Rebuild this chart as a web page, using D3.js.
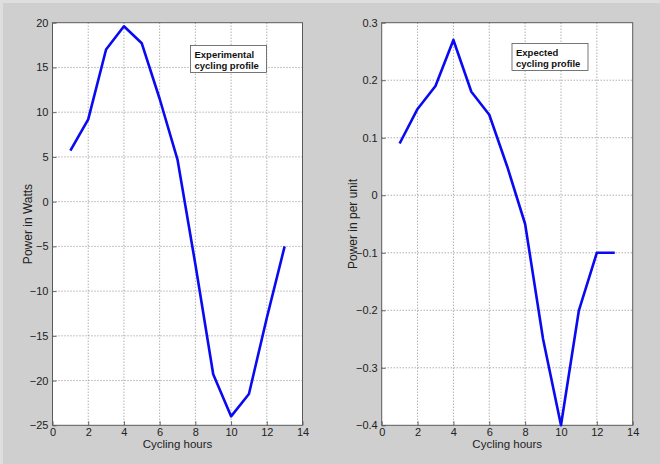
<!DOCTYPE html>
<html>
<head>
<meta charset="utf-8">
<script src="https://cdn.jsdelivr.net/npm/d3@7"></script>
<style>
  body { margin: 0; background: #cfcfcf; }
  svg { display: block; font-family: "Liberation Sans", Arial, sans-serif; }
  .grid line { stroke: #8a8a8a; stroke-dasharray: 1,2; stroke-width: 1; }
  .tick text { fill: #222; font-size: 11px; }
</style>
</head>
<body>
<svg id="chart" width="660" height="464"></svg>
<script>
// shared x values
const hours = [1, 2, 3, 4, 5, 6, 7, 8, 9, 10, 11, 12, 13];
const xTicks = [0, 2, 4, 6, 8, 10, 12, 14];

// left panel
const wattValues = [5.7, 9.2, 17, 19.6, 17.7, 11.5, 4.7, -7, -19.3, -24, -21.5, -13, -5];
const wattTicks = [-25, -20, -15, -10, -5, 0, 5, 10, 15, 20];

// right panel
const perUnitValues = [0.09, 0.15, 0.19, 0.27, 0.18, 0.14, 0.05, -0.05, -0.25, -0.4, -0.2, -0.1, -0.1];
const perUnitTicks = [-0.4, -0.3, -0.2, -0.1, 0, 0.1, 0.2, 0.3];

const svg = d3.select("#chart");

// light border strip like the screenshot
svg.append("rect").attr("x", 0).attr("y", 0).attr("width", 660).attr("height", 464).attr("fill", "#cfcfcf");
svg.append("rect").attr("x", 0).attr("y", 0).attr("width", 660).attr("height", 3).attr("fill", "#dedede");
svg.append("rect").attr("x", 0).attr("y", 0).attr("width", 3).attr("height", 464).attr("fill", "#dedede");

function drawPanel(opts) {
  const { left, right, top, bottom, values, yTicks, yDomain, yLabel, yLabelX, note, noteBox, fmt } = opts;

  const x = d3.scaleLinear().domain([0, 14]).range([left, right]);
  const y = d3.scaleLinear().domain(yDomain).range([bottom, top]);

  const g = svg.append("g");

  g.append("rect")
    .attr("x", left).attr("y", top)
    .attr("width", right - left).attr("height", bottom - top)
    .attr("fill", "#fff");

  // grid
  const grid = g.append("g").attr("class", "grid");
  grid.selectAll(".gx")
    .data(xTicks.slice(1, -1))
    .enter().append("line")
    .attr("x1", d => x(d)).attr("x2", d => x(d))
    .attr("y1", top).attr("y2", bottom);
  grid.selectAll(".gy")
    .data(yTicks.slice(1, -1))
    .enter().append("line")
    .attr("y1", d => y(d)).attr("y2", d => y(d))
    .attr("x1", left).attr("x2", right);

  // axes (ticks inside like matlab)
  const xAxis = d3.axisBottom(x).tickValues(xTicks).tickSizeInner(-4).tickSizeOuter(0).tickPadding(2.5);
  const yAxis = d3.axisLeft(y).tickValues(yTicks).tickSizeInner(-4).tickSizeOuter(0).tickPadding(4).tickFormat(fmt);

  const gx = g.append("g").attr("transform", "translate(0," + bottom + ")").call(xAxis);
  const gy = g.append("g").attr("transform", "translate(" + left + ",0)").call(yAxis);
  [gx, gy].forEach(a => {
    a.select(".domain").remove();
    a.selectAll(".tick line").attr("stroke", "#666");
  });
  gx.selectAll(".tick text").attr("dy", "0.71em");

  // frame
  g.append("rect")
    .attr("x", left).attr("y", top)
    .attr("width", right - left).attr("height", bottom - top)
    .attr("fill", "none").attr("stroke", "#5a5a5a").attr("stroke-width", 1);

  // line
  const line = d3.line()
    .x((d, i) => x(hours[i]))
    .y(d => y(d));

  g.append("path")
    .datum(values)
    .attr("fill", "none")
    .attr("stroke", "#0a0af2")
    .attr("stroke-width", 2.6)
    .attr("stroke-linejoin", "round")
    .attr("d", line);

  // labels
  g.append("text")
    .attr("x", (left + right) / 2)
    .attr("y", 448)
    .attr("text-anchor", "middle")
    .attr("font-size", 11.5)
    .attr("fill", "#222")
    .text("Cycling hours");

  g.append("text")
    .attr("transform", "translate(" + yLabelX + "," + ((top + bottom) / 2) + ") rotate(-90)")
    .attr("text-anchor", "middle")
    .attr("font-size", 12)
    .attr("fill", "#222")
    .text(yLabel);

  // annotation box
  g.append("rect")
    .attr("x", noteBox[0]).attr("y", noteBox[1])
    .attr("width", noteBox[2]).attr("height", noteBox[3])
    .attr("fill", "#fff").attr("stroke", "#555").attr("stroke-width", 0.8);
  const t = g.append("text")
    .attr("font-size", 9.5)
    .attr("font-weight", "bold")
    .attr("fill", "#111");
  note.forEach((s, i) => {
    t.append("tspan")
      .attr("x", noteBox[0] + 4)
      .attr("y", noteBox[1] + 12 + i * 11)
      .text(s);
  });
}

drawPanel({
  left: 52.5, right: 302.5, top: 22.7, bottom: 425.3,
  values: wattValues, yTicks: wattTicks, yDomain: [-25, 20],
  yLabel: "Power in Watts", yLabelX: 32,
  note: ["Experimental", "cycling profile"], noteBox: [190.5, 45.5, 76, 27],
  fmt: d3.format("d")
});

drawPanel({
  left: 381.7, right: 632.7, top: 22.7, bottom: 425.3,
  values: perUnitValues, yTicks: perUnitTicks, yDomain: [-0.4, 0.3],
  yLabel: "Power in per unit", yLabelX: 357,
  note: ["Expected", "cycling profile"], noteBox: [512, 43.5, 76, 27],
  fmt: d => (d === 0 ? "0" : d3.format(".1f")(d))
});
</script>
</body>
</html>
